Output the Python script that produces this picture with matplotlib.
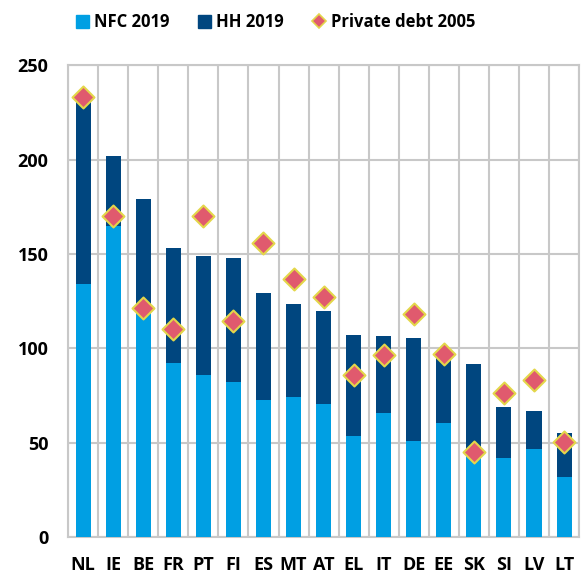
import numpy as np
import matplotlib.pyplot as plt
from matplotlib.lines import Line2D
from matplotlib.patches import Patch

plt.rcParams['font.family'] = ['Open Sans', 'DejaVu Sans']

countries = ['NL', 'IE', 'BE', 'FR', 'PT', 'FI', 'ES', 'MT', 'AT',
             'EL', 'IT', 'DE', 'EE', 'SK', 'SI', 'LV', 'LT']
# NFC 2019 and total (NFC + HH) 2019, % of GDP
nfc_2019 = [134, 165, 119, 92, 86, 82, 72.5, 74, 70.5,
            53.5, 65.5, 51, 60.5, 45, 42, 46.5, 32]
total_2019 = [231.5, 202, 179, 153, 149, 147.6, 129.5, 123.6, 120,
              107.3, 106.5, 105.2, 97, 91.5, 68.7, 67, 55]
hh_2019 = [t - n for t, n in zip(total_2019, nfc_2019)]
private_2005 = [233, 170, 121.5, 110, 170, 114.5, 156, 136.5, 127,
                86, 96.5, 118, 97, 45, 76.5, 83, 50.5]

c_nfc = '#009FE3'
c_hh = '#00467F'
c_dia = '#E05A6E'
c_edge = '#E3D64A'

fig = plt.figure(figsize=(5.82, 5.77), dpi=100)
ax = fig.add_axes([0.117, 0.0693, 0.878, 0.8177])

x = np.arange(len(countries))
ax.bar(x, nfc_2019, width=0.5, color=c_nfc, zorder=3)
ax.bar(x, hh_2019, width=0.5, bottom=nfc_2019, color=c_hh, zorder=3)
ax.scatter(x, private_2005, marker='D', s=125, color=c_dia,
           edgecolor=c_edge, linewidth=1.5, zorder=4)

ax.set_xlim(-0.5, len(countries) - 0.5)
ax.set_ylim(0, 250)
ax.set_yticks([0, 50, 100, 150, 200, 250])
ax.set_xticks(x)
ax.set_xticklabels(countries)
ax.set_xticks(np.arange(-0.5, len(countries), 1), minor=True)
ax.grid(axis='y', color='#C8C8C8', linewidth=1.5, zorder=0)
ax.grid(axis='x', which='minor', color='#C8C8C8', linewidth=1.5, zorder=0)
ax.tick_params(which='both', length=0)
ax.tick_params(axis='y', pad=14, labelsize=13)
ax.tick_params(axis='x', pad=14, labelsize=13)
for lab in ax.get_xticklabels() + ax.get_yticklabels():
    lab.set_fontweight('bold')
for s in ax.spines.values():
    s.set_color('#C8C8C8')
    s.set_linewidth(1.5)

handles = [Patch(color=c_nfc, label='NFC 2019'),
           Patch(color=c_hh, label='HH 2019'),
           Line2D([], [], marker='D', linestyle='none', markersize=7,
                  markerfacecolor=c_dia, markeredgecolor=c_edge,
                  markeredgewidth=1.2, label='Private debt 2005')]
fig.legend(handles=handles, loc='center', bbox_to_anchor=(0.473, 0.962),
           ncol=3, frameon=False, handlelength=0.8, handleheight=0.8,
           handletextpad=0.3, columnspacing=1.7,
           prop={'weight': 'bold', 'size': 12})

fig.savefig('out.png', dpi=100)
